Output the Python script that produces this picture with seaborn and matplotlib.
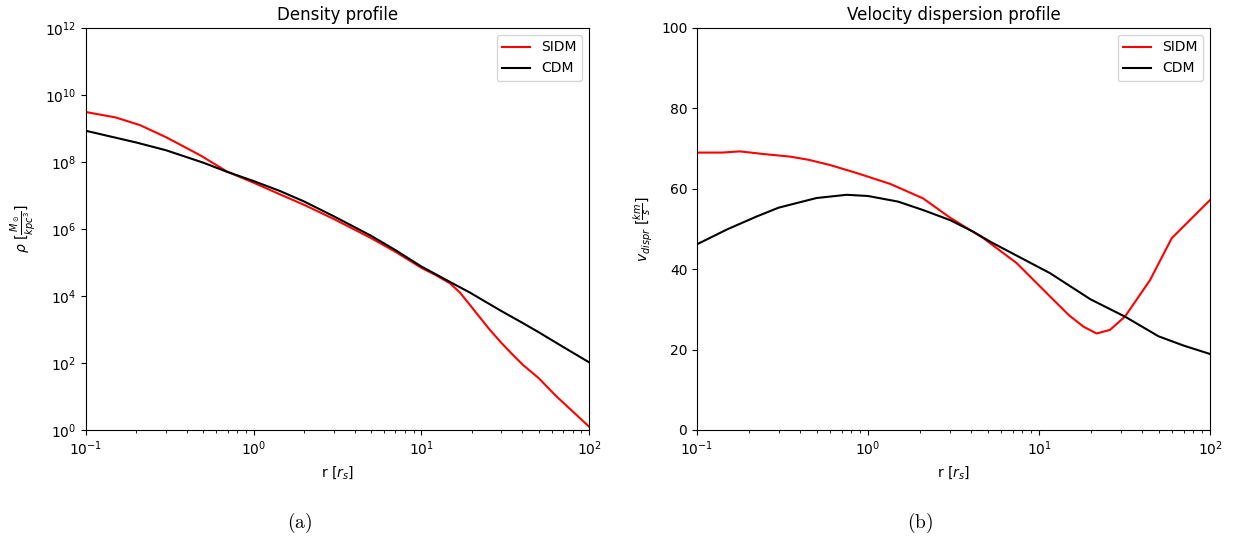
import numpy as np
import seaborn as sns
import matplotlib.pyplot as plt

# density profile (log10 of rho)
rho_sidm_r = [0.1, 0.15, 0.21, 0.3, 0.48, 0.69, 1.0, 1.44, 2.0, 3.0, 5.0, 7.0, 10.0,
              12.0, 14.8, 17.0, 19.5, 22.0, 25.6, 30.0, 35.0, 40.4, 50.0, 64.0, 80.0, 100.0]
rho_sidm_log = [9.49, 9.33, 9.1, 8.74, 8.2, 7.72, 7.38, 7.03, 6.72, 6.3, 5.73, 5.32, 4.84,
                4.64, 4.38, 4.1, 3.73, 3.4, 2.99, 2.6, 2.25, 1.94, 1.55, 1.0, 0.55, 0.1]
rho_cdm_r = [0.1, 0.2, 0.3, 0.5, 0.69, 1.0, 1.44, 2.0, 3.0, 5.0, 7.0, 10.0, 14.8, 19.5,
             30.0, 40.0, 50.0, 70.0, 100.0]
rho_cdm_log = [8.93, 8.58, 8.35, 7.98, 7.71, 7.43, 7.13, 6.82, 6.38, 5.8, 5.37, 4.88, 4.42, 4.1,
               3.55, 3.2, 2.92, 2.48, 2.02]

# velocity dispersion profile [km/s]
v_sidm_r = [0.1, 0.14, 0.178, 0.25, 0.35, 0.45, 0.6, 0.86, 1.35, 2.1, 3.02, 4.73, 7.4,
            11.6, 15.0, 18.2, 21.7, 26.0, 31.8, 44.6, 59.7, 100.0]
v_sidm = [69.0, 69.0, 69.3, 68.6, 68.0, 67.2, 65.9, 63.9, 61.2, 57.6, 52.8, 47.7, 41.5,
          33.2, 28.5, 25.7, 24.0, 24.9, 28.2, 37.3, 47.7, 57.2]
v_cdm_r = [0.1, 0.15, 0.223, 0.3, 0.5, 0.75, 1.0, 1.5, 2.1, 3.02, 4.13, 5.2, 11.6, 20.0, 31.8,
           50.0, 70.0, 100.0]
v_cdm = [46.2, 49.9, 53.1, 55.3, 57.7, 58.5, 58.2, 56.8, 54.7, 52.2, 49.3, 46.8, 39.0, 32.5, 28.2,
         23.3, 21.0, 18.9]

fig = plt.figure(figsize=(12.37, 5.44), dpi=100)
ax1 = fig.add_axes([0.0695, 0.2096, 0.4067, 0.739])
ax2 = fig.add_axes([0.5635, 0.2096, 0.4147, 0.739])

# density
sns.lineplot(x=rho_sidm_r, y=10 ** np.array(rho_sidm_log), color='red', label='SIDM', ax=ax1)
sns.lineplot(x=rho_cdm_r, y=10 ** np.array(rho_cdm_log), color='black', label='CDM', ax=ax1)
ax1.set_xscale('log')
ax1.set_yscale('log')
ax1.set_xlim(0.1, 100)
ax1.set_ylim(1, 1e12)
ax1.set_title('Density profile')
ax1.set_xlabel(r'r [$r_s$]')
ax1.set_ylabel(r'$\rho\ [\frac{M_\odot}{kpc^3}]$')
ax1.legend(loc='upper right')

# velocity dispersion
sns.lineplot(x=v_sidm_r, y=v_sidm, color='red', label='SIDM', ax=ax2)
sns.lineplot(x=v_cdm_r, y=v_cdm, color='black', label='CDM', ax=ax2)
ax2.set_xscale('log')
ax2.set_xlim(0.1, 100)
ax2.set_ylim(0, 100)
ax2.set_title('Velocity dispersion profile')
ax2.set_xlabel(r'r [$r_s$]')
ax2.set_ylabel(r'$v_{dispr}\ [\frac{km}{s}]$')
ax2.legend(loc='upper right')

fig.text(300 / 1237, 1 - 523 / 544, r'$\mathrm{(a)}$', ha='center', va='center',
         fontsize=14, math_fontfamily='cm')
fig.text(920 / 1237, 1 - 523 / 544, r'$\mathrm{(b)}$', ha='center', va='center',
         fontsize=14, math_fontfamily='cm')

plt.savefig('out.png', dpi=100)
